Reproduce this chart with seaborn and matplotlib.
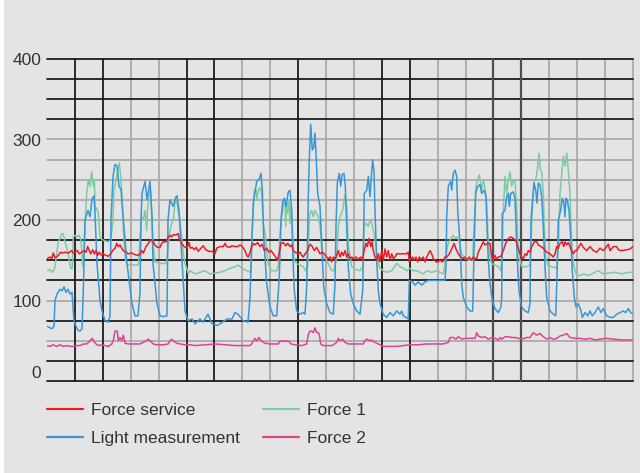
import matplotlib
matplotlib.use("Agg")
import matplotlib.pyplot as plt
import seaborn as sns
from matplotlib.lines import Line2D
from matplotlib.patches import Rectangle

sns.set_style("white")
plt.rcParams['font.family'] = ['Liberation Sans', 'DejaVu Sans']

# ---------------- data (time in samples, values in chart units) ----------------
t_light = [47, 50, 52, 54, 55, 57, 60, 62, 64, 66, 68, 70, 72, 74, 76, 78, 80, 82, 83.5, 85, 88, 90, 92, 94, 95, 97,
           100, 102, 105, 108, 110, 111, 113, 115, 117, 119, 121, 124, 127, 132, 135, 138, 140, 141, 142, 145, 147,
           150, 152, 153, 157, 160, 163, 167, 168, 170, 173, 176, 177, 179, 182, 185, 188, 192, 195, 200, 203, 208,
           212, 217, 220, 227, 232, 235, 238, 243, 248, 250, 251.7, 253.3, 256.7, 259, 261, 262.3, 263.7, 266.7, 270,
           273.3, 276.7, 279.3, 281, 282.7, 284.3, 286, 288.3, 290, 291.7, 292.7, 294.3, 296.7, 300, 303.3, 305,
           306.7, 308.3, 309.3, 310.7, 312.3, 313.7, 315, 316.3, 317.7, 320, 321.7, 323.7, 326.7, 330, 333.3, 335,
           336, 337.3, 339.3, 340.7, 342, 344, 345.3, 346.7, 348.3, 350.7, 353.3, 356.7, 360, 362.7, 364.3, 366.7,
           368.3, 370, 371.7, 372.7, 374, 375, 376.7, 378.3, 380, 383.3, 386.7, 390, 393.3, 396.7, 400, 401.7, 403.3,
           406, 408.3, 409.3, 412.7, 415, 418.3, 421.7, 425, 428.3, 433.3, 440, 445, 446, 446.7, 448.3, 450.7, 451.7,
           453.3, 455, 456.7, 457.7, 460, 461.7, 463.3, 466.7, 470, 472.7, 474, 475.7, 477.3, 480, 481.7, 484.3, 486,
           487, 488.3, 490, 492.3, 495, 498.3, 501, 501.7, 502.3, 505, 506.7, 508.3, 509.3, 510.7, 513.3, 515, 516,
           517.3, 519, 521.7, 525, 528.3, 530, 531, 532.3, 534, 535.7, 537, 538.3, 540, 541.7, 543.3, 545, 546.7, 550,
           553.3, 555.7, 557, 558.3, 560.7, 562.3, 564, 565, 566, 567.3, 569, 570.7, 572.3, 574.3, 576, 578.3, 581,
           582.3, 585, 587.7, 590, 592.3, 595, 598.3, 601, 603.3, 606.7, 610, 613.3, 616.7, 620, 623.3, 625.7, 628.3,
           630.7, 633]
light = [68, 66, 65, 68, 100, 108, 114, 112, 117, 110, 114, 108, 110, 75, 68, 63, 62, 65, 120, 200, 212, 204, 226,
         230, 208, 146, 100, 87, 75, 73, 80, 200, 254, 269, 267, 242, 238, 190, 146, 96, 81, 81, 110, 200, 233, 248,
         225, 248, 204, 146, 96, 81, 80, 81, 200, 225, 217, 229, 230, 212, 150, 87, 75, 77, 71, 77, 73, 83, 71, 69,
         71, 77, 77, 85, 83, 75, 73, 104, 171, 221, 248, 250, 258, 237, 179, 121, 92, 81, 81, 129, 200, 223, 227,
         217, 235, 237, 212, 162, 112, 87, 83, 85, 83, 117, 229, 275, 319, 287, 290, 308, 275, 233, 217, 171, 117,
         96, 85, 83, 121, 192, 246, 258, 242, 256, 258, 242, 192, 142, 108, 96, 87, 83, 112, 233, 237, 254, 229,
         260, 275, 260, 212, 150, 112, 96, 83, 79, 85, 81, 87, 83, 87, 81, 79, 77, 125, 123, 119, 123, 119, 123, 125,
         125, 125, 125, 142, 204, 242, 248, 237, 258, 262, 254, 212, 171, 121, 104, 92, 87, 87, 162, 233, 241, 244,
         233, 237, 229, 192, 150, 121, 100, 90, 85, 92, 104, 208, 212, 229, 233, 217, 233, 235, 227, 192, 150, 112,
         92, 87, 85, 96, 200, 221, 246, 237, 221, 246, 244, 229, 192, 142, 104, 87, 83, 81, 129, 200, 212, 227, 221,
         204, 227, 225, 212, 179, 137, 104, 92, 96, 87, 79, 85, 81, 87, 81, 85, 92, 85, 90, 81, 79, 79, 83, 85, 87,
         85, 90, 85, 83]

t_force1 = [47, 50, 52.7, 55, 56.7, 58.3, 60, 61.7, 63.3, 65, 68.3, 70.7, 72.3, 73.3, 75, 76.7, 79.3, 81, 82.7, 84,
            85, 86.7, 88.3, 90, 91.7, 93.3, 94.3, 95.3, 96.7, 98.3, 100, 101.7, 105, 108.3, 110.7, 112.7, 114, 116,
            117.3, 119.3, 120.7, 121.7, 123.3, 125, 126.7, 131.7, 138.3, 140, 141.7, 143.3, 145, 146.7, 147.3, 149,
            150.7, 152, 153.3, 155, 160, 165, 166.7, 168.3, 170, 171.7, 173.3, 175, 176.7, 178.3, 180, 181.7, 183.3,
            185, 186.7, 188.3, 190, 195, 200, 205, 210, 215, 220, 225, 230, 235, 238.3, 241.7, 246.7, 251, 251.7,
            253.3, 254.3, 256, 257, 258.3, 260, 261.7, 263.3, 265, 266.7, 268.3, 271.7, 276.7, 278.3, 280, 281.7,
            283.3, 285, 285.7, 286.7, 287.7, 289, 290, 291, 292.3, 294, 296.7, 300, 303.3, 305.7, 307.7, 309, 310,
            311.7, 313.3, 315, 316.7, 318.3, 320, 321.7, 323.3, 326.7, 331.7, 333.3, 335, 336.7, 338.3, 340, 342.7,
            345, 346.7, 348.3, 350, 351.7, 355, 360, 362.7, 364, 366, 368.3, 370, 371.7, 373.3, 375, 376.7, 378.3,
            380, 383.3, 386.7, 391.7, 396.7, 400, 403.3, 406.7, 410, 413.3, 416.7, 420, 423.3, 426.7, 431.7, 436.7,
            443.3, 445, 446.7, 448.3, 450.7, 453.3, 455, 457.3, 459.3, 461.7, 465, 469.3, 472.7, 474, 475.7, 477.3,
            479.3, 481.7, 483.3, 485, 486.7, 488.3, 490, 491.7, 495, 498.3, 501, 502.3, 503.3, 505, 506.7, 508.3, 510,
            511.7, 513.3, 515, 516.7, 517.7, 519, 521.7, 526.7, 530, 531, 532.3, 534, 535.7, 537.3, 539, 540.3,
            541.7, 543.3, 544.3, 545.7, 547.7, 551.7, 556.7, 558.3, 560, 561.7, 563.3, 565, 566.7, 568.3, 570, 571,
            572.3, 574, 576.7, 580, 583.3, 588.3, 593.3, 598.3, 603.3, 608.3, 615, 621.7, 628.3, 633]
force1 = [137, 138, 135, 142, 158, 173, 177, 183, 183, 173, 158, 140, 140, 179, 181, 179, 181, 175, 142, 162, 196,
          233, 250, 242, 260, 242, 250, 212, 215, 208, 179, 176, 174, 173, 175, 196, 237, 250, 258, 271, 254, 237,
          192, 154, 145, 144, 144, 179, 204, 200, 212, 187, 208, 233, 237, 200, 167, 148, 146, 146, 148, 171, 187,
          196, 200, 221, 225, 210, 200, 179, 158, 146, 140, 133, 137, 133, 135, 137, 133, 134, 135, 137, 140, 142,
          144, 140, 137, 135, 171, 212, 237, 237, 225, 237, 240, 233, 196, 183, 162, 144, 137, 137, 142, 183, 204,
          217, 225, 192, 221, 208, 225, 196, 217, 192, 150, 146, 144, 142, 137, 142, 192, 208, 212, 204, 212, 208,
          204, 192, 167, 154, 150, 137, 137, 142, 154, 192, 204, 212, 231, 217, 171, 154, 142, 139, 137, 142, 192,
          196, 192, 200, 196, 187, 175, 158, 146, 140, 137, 135, 137, 146, 142, 140, 137, 140, 137, 137, 135, 133,
          137, 135, 137, 133, 146, 162, 171, 177, 181, 177, 179, 173, 158, 152, 150, 150, 192, 237, 250, 256, 237,
          250, 240, 221, 171, 154, 146, 144, 142, 137, 162, 212, 254, 233, 250, 260, 242, 250, 248, 217, 179, 154,
          142, 142, 144, 171, 212, 248, 250, 262, 283, 262, 260, 233, 192, 154, 144, 142, 140, 167, 233, 256, 279,
          267, 283, 262, 233, 192, 158, 142, 131, 131, 133, 131, 134, 137, 133, 134, 135, 133, 135, 135]

t_service = [47, 50, 51.7, 53.3, 55, 56.7, 58.3, 60.7, 62.7, 65, 68.3, 71.7, 73.3, 75, 77.3, 79.3, 81.7, 84, 86,
             87.7, 89.3, 90.7, 92.7, 94.3, 96, 97.7, 99.3, 101.7, 103.3, 106, 108.3, 110.7, 112.7, 115, 116.7, 118.3,
             120, 121.7, 123.3, 126, 128.3, 131.7, 135, 138.3, 140, 141.7, 143.3, 146, 148.3, 150.7, 153.3, 155,
             157.3, 160, 161.7, 163.3, 166, 168.3, 170, 171.7, 173.3, 175, 176.7, 178.3, 179.3, 181.7, 184, 186.7,
             188.3, 189, 190.3, 192.3, 194.3, 196.3, 198.3, 201, 203.3, 205.7, 209, 212.3, 215, 216.7, 220, 223.3,
             225, 226.7, 230, 231.7, 235, 237.7, 240, 242.3, 245, 246.7, 248.3, 250, 251.7, 253.3, 255, 257.7, 260,
             262.3, 264.3, 266.7, 269, 271, 273.3, 275.7, 277.7, 279, 281, 283.3, 285.7, 287.7, 290, 291.7, 293.3,
             295, 298.3, 300, 301.7, 303.3, 305, 307.7, 309, 310.3, 312.3, 314.3, 316.7, 318.3, 320, 322.3, 324.3,
             326.7, 328.3, 330.3, 331.7, 333.3, 335, 336.7, 338.3, 340, 341.7, 343.3, 345, 346.7, 348.3, 350, 351.7,
             353.3, 356, 358.3, 360.7, 362.7, 364, 366, 367.3, 369, 370.7, 372, 373.3, 375, 376.7, 378.3, 380, 381.7,
             383.3, 385, 386.7, 388.3, 390, 391.7, 393.3, 395, 396.7, 406.7, 408.3, 409.3, 411, 412.7, 414, 416,
             417.7, 419.3, 421, 423.3, 425, 426.7, 428.3, 430, 431.7, 433.3, 436, 438.3, 440, 442.7, 445, 446.7,
             449.3, 451.7, 454, 456, 458.3, 460.7, 462.7, 465, 466.7, 469.3, 471.7, 473.3, 475, 476.7, 478.3, 481,
             483.3, 485, 487.7, 490, 491.7, 493.3, 495, 496.7, 498.3, 501, 503.3, 505.7, 508.3, 511, 513.3, 515.7,
             517.7, 520, 521.7, 523.3, 525, 526.7, 528.3, 530, 531.7, 534.3, 536.7, 538.3, 541, 543.3, 546.7, 550,
             553.3, 555, 556.7, 558.3, 560, 562.3, 563.7, 565, 566.7, 568.3, 570, 571.7, 573.3, 575, 576.7, 579, 581,
             583.3, 586.7, 590, 593.3, 596.7, 600, 603.3, 606.7, 608.3, 610, 613.3, 616.7, 618.3, 621.7, 626.7, 630,
             633]
service = [152, 154, 152, 159, 153, 154, 156, 160, 159, 160, 159, 162, 159, 160, 162, 158, 160, 162, 160, 167, 162,
           158, 163, 158, 162, 156, 160, 156, 158, 156, 155, 158, 162, 165, 171, 167, 169, 165, 162, 160, 158, 159,
           157, 156, 158, 162, 159, 167, 171, 175, 173, 169, 166, 166, 171, 173, 173, 179, 181, 179, 182, 181, 182,
           183, 177, 171, 167, 165, 169, 172, 165, 166, 163, 166, 161, 165, 168, 163, 161, 161, 158, 165, 167, 167,
           171, 167, 166, 168, 167, 167, 169, 167, 162, 156, 154, 160, 167, 171, 169, 172, 167, 170, 162, 165, 160,
           162, 158, 154, 150, 158, 171, 172, 168, 171, 167, 169, 162, 160, 158, 160, 156, 154, 158, 162, 167, 170,
           167, 162, 166, 162, 158, 160, 158, 154, 152, 154, 148, 154, 152, 156, 162, 154, 160, 156, 162, 154, 158,
           152, 154, 152, 154, 151, 154, 150, 162, 171, 167, 177, 167, 173, 162, 154, 150, 158, 148, 162, 150, 164,
           154, 162, 151, 158, 152, 154, 158, 158, 160, 148, 152, 154, 150, 154, 148, 154, 151, 154, 148, 154, 158,
           162, 158, 152, 148, 148, 150, 148, 154, 154, 158, 164, 171, 164, 158, 154, 152, 154, 150, 154, 150, 154,
           152, 152, 160, 167, 173, 169, 171, 171, 154, 150, 156, 151, 154, 155, 162, 171, 177, 179, 177, 175, 167,
           158, 154, 152, 158, 156, 162, 160, 167, 173, 173, 169, 167, 165, 160, 158, 154, 158, 167, 165, 171, 173,
           167, 173, 169, 172, 167, 162, 158, 162, 162, 167, 171, 166, 162, 167, 162, 160, 165, 162, 167, 170, 162,
           167, 167, 163, 162, 163, 164, 167]

t_force2 = [47, 50, 53.3, 56.7, 60, 63.3, 66.7, 70, 73.3, 76.7, 80, 83.3, 86.7, 90, 92.3, 94, 96, 98.3, 101.7, 105,
            108.3, 111.7, 113.3, 115, 117.3, 118.3, 120, 121.7, 123.3, 125, 128.3, 133.3, 140, 143.3, 146, 148.3, 150,
            153.3, 156.7, 163.3, 168.3, 170, 171.7, 173.3, 176.7, 180, 185, 190, 195, 205, 215, 225, 235, 245, 250,
            251.7, 253.3, 255, 256.7, 259, 261, 265, 270, 278.3, 280, 281.7, 283.3, 285, 286.7, 289, 291, 295, 301.7,
            306.7, 308.3, 310, 311.7, 313.3, 315, 316.7, 318.3, 319.3, 320.7, 323.3, 331.7, 333.3, 336.7, 338.3, 340,
            342.7, 345, 348.3, 353.3, 363.3, 365, 366.7, 370, 371.7, 373.3, 376.7, 380, 383.3, 396.7, 403.3, 410,
            418.3, 426.7, 436.7, 443.3, 448.3, 450, 453.3, 456, 458.3, 461.7, 465, 470, 475, 476.7, 478.3, 481.7, 485,
            488.3, 491.7, 495, 498.3, 500, 501.7, 505, 508.3, 511.7, 515, 518.3, 521.7, 526.7, 530, 533.3, 536.7, 540,
            543.3, 546.7, 550, 553.3, 556.7, 560, 563.3, 566.7, 570, 575, 580, 585, 590, 595, 600, 606.7, 613.3,
            621.7, 628.3, 633]
force2 = [44, 43, 45, 43, 45, 43, 44, 43, 43, 44, 44, 46, 46, 50, 53, 49, 46, 44, 45, 44, 43, 46, 50, 62, 62, 50, 54,
          50, 57, 47, 46, 46, 46, 48, 50, 52, 50, 46, 45, 45, 46, 50, 52, 50, 47, 46, 45, 45, 44, 45, 46, 45, 44, 44,
          44, 46, 50, 53, 50, 54, 50, 47, 46, 46, 50, 49, 50, 49, 50, 49, 46, 45, 44, 46, 58, 62, 62, 60, 66, 60, 60,
          58, 46, 44, 44, 45, 48, 53, 50, 52, 48, 46, 46, 46, 50, 52, 50, 51, 49, 47, 45, 43, 43, 44, 45, 45, 46, 46,
          46, 48, 54, 54, 52, 55, 52, 53, 53, 53, 60, 56, 54, 55, 52, 54, 53, 51, 54, 52, 55, 55, 54, 54, 53, 52, 54,
          54, 60, 57, 59, 55, 52, 54, 52, 53, 56, 57, 59, 54, 53, 53, 52, 53, 51, 52, 53, 52, 51, 51, 51]

series_names = ["Force service", "Light measurement", "Force 1", "Force 2"]
series_colors = {"Force service": "#ed1c24", "Light measurement": "#3897d6",
                 "Force 1": "#7ecaa3", "Force 2": "#e2438e"}
y_ticks = [0, 100, 200, 300, 400]

# ---------------- figure ----------------
BG = "#e4e4e4"
TXT = "#333333"
fig = plt.figure(figsize=(6.4, 4.73), dpi=100, facecolor=BG)
ax = fig.add_axes([47 / 640, 1 - 381 / 473, 586 / 640, 322 / 473])
ax.set_facecolor(BG)
x0, x1 = 47, 633
ax.set_xlim(x0, x1)
ax.set_ylim(0, 400)
for s in ax.spines.values():
    s.set_visible(False)

# grid (styling)
black_h = [0, 25, 75, 125, 150, 175, 325, 350, 375, 400]
gray_h = [50, 100, 200, 225, 250, 275, 300]
for lv in gray_h:
    ax.axhline(lv, color="#ababab", lw=1.3, zorder=1, clip_on=False)
for lv in black_h:
    ax.axhline(lv, color="#1c1c1c", lw=1.3, zorder=2, clip_on=False)
ncol = 21
black_v = [1, 2, 5, 6, 9, 12, 13]
dark_v = [16, 17]
gray_v = [3, 4, 7, 8, 10, 11, 14, 15, 18, 19, 20, 21]
step = (x1 - x0) / ncol
for k in gray_v:
    ax.axvline(x0 + k * step, color="#ababab", lw=1.3, zorder=1, clip_on=False)
for k in black_v:
    ax.axvline(x0 + k * step, color="#1c1c1c", lw=1.3, zorder=2, clip_on=False)
for k in dark_v:
    ax.axvline(x0 + k * step, color="#505050", lw=1.6, zorder=2, clip_on=False)

# data lines
lw = 1.1
sns.lineplot(x=t_force1, y=force1, ax=ax, color=series_colors["Force 1"], lw=lw, zorder=3,
             estimator=None, sort=False)
sns.lineplot(x=t_light, y=light, ax=ax, color=series_colors["Light measurement"], lw=lw, zorder=4,
             estimator=None, sort=False)
sns.lineplot(x=t_force2, y=force2, ax=ax, color=series_colors["Force 2"], lw=lw, zorder=5,
             estimator=None, sort=False)
sns.lineplot(x=t_service, y=service, ax=ax, color=series_colors["Force service"], lw=lw, zorder=6,
             estimator=None, sort=False)

ax.set_xticks([])
ax.set_yticks(y_ticks)
ax.set_yticklabels([str(v) for v in y_ticks], fontsize=12.5, color=TXT)
ax.tick_params(axis="y", length=0, pad=4)
ax.get_yticklabels()[0].set_verticalalignment("bottom")
ax.set_xlabel("")
ax.set_ylabel("")

handles = [Line2D([0], [0], color=series_colors[n], lw=1.6) for n in series_names]
leg = fig.legend(handles, series_names, ncol=2, loc="upper left",
                 bbox_to_anchor=(47 / 640, 1 - 403 / 473), frameon=False,
                 fontsize=12.5, handlelength=2.1, handletextpad=0.45,
                 columnspacing=1.3, labelspacing=0.72, borderpad=0, borderaxespad=0)
for t in leg.get_texts():
    t.set_color(TXT)

fig.patches.append(Rectangle((0, 0), 4 / 640, 1, transform=fig.transFigure,
                             facecolor="white", edgecolor="none", zorder=0))

fig.savefig("out.png", dpi=100, facecolor=BG)
